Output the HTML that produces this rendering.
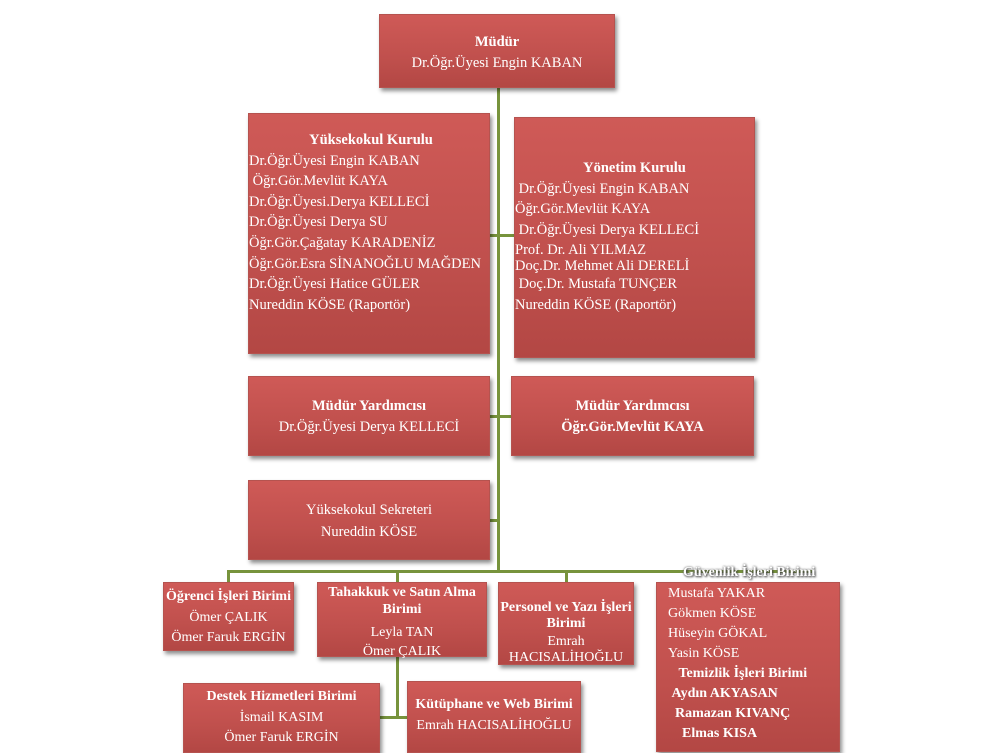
<!DOCTYPE html>
<html><head><meta charset="utf-8"><style>
body{margin:0;width:1000px;height:749px;background:#fff;position:relative;overflow:hidden;font-family:"Liberation Serif",serif;}
.b{position:absolute;background:linear-gradient(#cf5a57,#c0504d 60%,#b34744);color:#fff;font-size:14.5px;line-height:20.6px;box-shadow:2px 3px 4px rgba(0,0,0,.45);box-sizing:border-box;border:1px solid #b5534f;white-space:nowrap;}
.c{text-align:center;}
.l{position:absolute;background:#77933c;}
b{font-weight:bold;}
</style></head><body>
<div class="l" style="left:497px;top:88px;width:3px;height:485px"></div>
<div class="l" style="left:490px;top:234px;width:24px;height:3px"></div>
<div class="l" style="left:490px;top:415px;width:21px;height:3px"></div>
<div class="l" style="left:490px;top:519px;width:8px;height:3px"></div>
<div class="l" style="left:227px;top:570px;width:585px;height:3px"></div>
<div class="l" style="left:227px;top:570px;width:3px;height:12px"></div>
<div class="l" style="left:396px;top:570px;width:3px;height:12px"></div>
<div class="l" style="left:565px;top:570px;width:3px;height:12px"></div>
<div class="l" style="left:396px;top:656px;width:3px;height:62px"></div>
<div class="l" style="left:380px;top:716px;width:27px;height:3px"></div>

<div class="b c" style="left:379px;top:14px;width:236px;height:74px;padding-top:17px"><b>Müdür</b><br>Dr.Öğr.Üyesi Engin KABAN</div>

<div class="b" style="left:248px;top:113px;width:242px;height:241px;padding-top:16px"><div class="c" style="padding-left:4px"><b>Yüksekokul Kurulu</b></div>Dr.Öğr.Üyesi Engin KABAN<br>&nbsp;Öğr.Gör.Mevlüt KAYA<br>Dr.Öğr.Üyesi.Derya KELLECİ<br>Dr.Öğr.Üyesi Derya SU<br>Öğr.Gör.Çağatay KARADENİZ<br>Öğr.Gör.Esra SİNANOĞLU MAĞDEN<br>Dr.Öğr.Üyesi Hatice GÜLER<br>Nureddin KÖSE (Raportör)</div>

<div class="b" style="left:514px;top:117px;width:241px;height:241px;padding-top:40px"><div class="c"><b>Yönetim Kurulu</b></div>&nbsp;Dr.Öğr.Üyesi Engin KABAN<br>Öğr.Gör.Mevlüt KAYA<br>&nbsp;Dr.Öğr.Üyesi Derya KELLECİ<br><span style="display:block;line-height:16px;margin-top:2px">Prof. Dr. Ali YILMAZ<br>Doç.Dr. Mehmet Ali DERELİ</span>&nbsp;Doç.Dr. Mustafa TUNÇER<br>Nureddin KÖSE (Raportör)</div>

<div class="b c" style="left:248px;top:376px;width:242px;height:80px;padding-top:19px"><b>Müdür Yardımcısı</b><br>Dr.Öğr.Üyesi Derya KELLECİ</div>
<div class="b c" style="left:511px;top:376px;width:243px;height:80px;padding-top:19px"><b>Müdür Yardımcısı<br>Öğr.Gör.Mevlüt KAYA</b></div>

<div class="b c" style="left:248px;top:480px;width:242px;height:80px;padding-top:18px;line-height:22px">Yüksekokul Sekreteri<br>Nureddin KÖSE</div>

<div class="b c" style="left:163px;top:582px;width:131px;height:69px;padding-top:4px;font-size:14px"><b>Öğrenci İşleri Birimi</b><br>Ömer ÇALIK<br>Ömer Faruk ERGİN</div>
<div class="b c" style="left:317px;top:582px;width:170px;height:75px;padding-top:1px;font-size:14px;line-height:17px"><b>Tahakkuk ve Satın Alma<br>Birimi</b><br><span style="display:block;margin-top:5px;line-height:19px">Leyla TAN<br>Ömer ÇALIK</span></div>
<div class="b c" style="left:498px;top:582px;width:136px;height:83px;padding-top:17px;font-size:14px;line-height:15.5px"><b>Personel ve Yazı İşleri<br>Birimi</b><br><span style="display:block;margin-top:3px;line-height:16px">Emrah<br>HACISALİHOĞLU</span></div>
<div class="b" style="left:656px;top:582px;width:184px;height:170px;padding:1px 0 0 11px;font-size:14px;line-height:20px">Mustafa YAKAR<br>Gökmen KÖSE<br>Hüseyin GÖKAL<br>Yasin KÖSE<br><b>&nbsp;&nbsp;&nbsp;Temizlik İşleri Birimi<br>&nbsp;Aydın AKYASAN<br>&nbsp;&nbsp;Ramazan KIVANÇ<br>&nbsp;&nbsp;&nbsp;&nbsp;Elmas KISA</b></div>
<div style="position:absolute;left:683px;top:565px;font-size:14px;font-weight:bold;color:#fff;text-shadow:0 0 2px #555,1px 1px 2px #333;font-family:'Liberation Serif',serif">Güvenlik İşleri Birimi</div>

<div class="b c" style="left:183px;top:683px;width:197px;height:70px;padding-top:3px;font-size:14px"><b>Destek Hizmetleri Birimi</b><br>İsmail KASIM<br>Ömer Faruk ERGİN</div>
<div class="b c" style="left:407px;top:681px;width:174px;height:72px;padding-top:13px;font-size:14px"><b>Kütüphane ve Web Birimi</b><br>Emrah HACISALİHOĞLU</div>
</body></html>
